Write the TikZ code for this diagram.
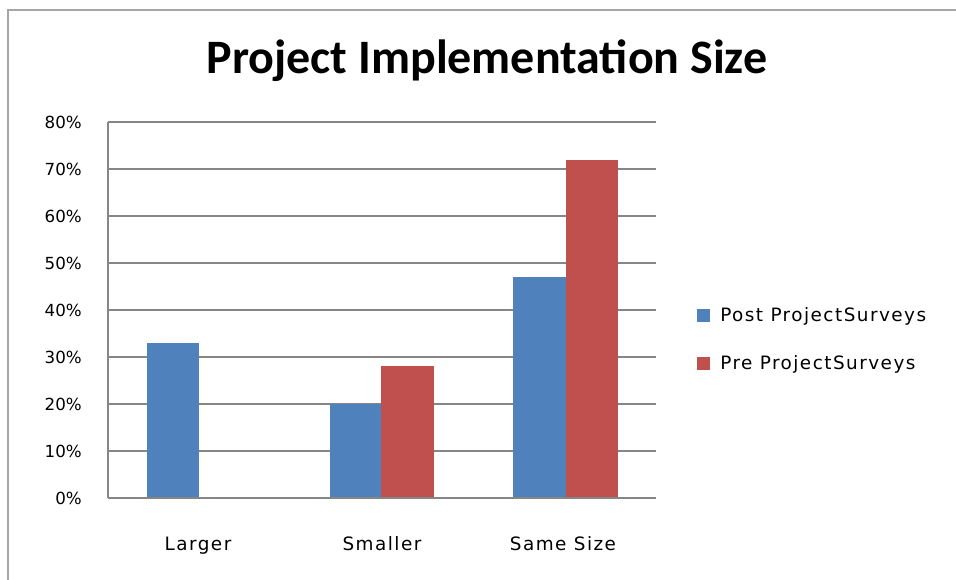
\documentclass[tikz,border=0pt]{standalone}
\usepackage{fontspec}
\setmainfont{DejaVu Sans}
\newfontfamily\titlefont{Carlito}
\newfontfamily\widefont[LetterSpace=8]{DejaVu Sans}
\definecolor{postblue}{HTML}{4F81BD}
\definecolor{prered}{HTML}{C0504D}
\definecolor{gridgray}{HTML}{868686}
\definecolor{framegray}{HTML}{A6A6A6}
\tikzset{
  axislabel/.style={font=\fontsize{12.5}{14}\selectfont, inner sep=0pt},
  catlabel/.style={font=\widefont\fontsize{13.8}{15}\selectfont, inner sep=0pt, anchor=base},
  gridline/.style={gridgray, line width=1.3pt},
  postbar/.style={fill=postblue},
  prebar/.style={fill=prered}
}
\begin{document}
\begin{tikzpicture}[x=0.75pt,y=-0.75pt]
        \useasboundingbox (0,0) rectangle (956,580);
        %frame
        \fill[white] (0,0) rectangle (956,580);
        \draw[framegray, line width=1.5pt] (7.5,580) -- (7.5,10.5) -- (956,10.5);

        %title
        \node (title) at (487,61) {\titlefont\bfseries\fontsize{36}{42}\selectfont Project Implementation Size};

        %grid and percent labels
        \foreach \p [count=\i from 0] in {0,10,20,30,40,50,60,70,80} {
          \draw[gridline] (108,498-47*\i) -- (656,498-47*\i);
          \node[axislabel, anchor=east] (tick\p) at (82,498-47*\i) {\p\%};
        }
        \draw[gridline] (108,122) -- (108,498);

        %bars
        \fill[postbar] (147,498) rectangle (199,343);
        \fill[postbar] (330,498) rectangle (381,404);
        \fill[prebar] (381,498) rectangle (434,366);
        \fill[postbar] (513,498) rectangle (566,277);
        \fill[prebar] (566,498) rectangle (618,160);
        \draw[gridline] (108,498) -- (656,498);

        %categories
        \node[catlabel] (larger) at (198,550) {Larger};
        \node[catlabel] (smaller) at (382,550) {Smaller};
        \node[catlabel] (samesize) at (563,550) {Same Size};

        %legend
        \fill[postbar] (697,309) rectangle (710,322);
        \node[catlabel, anchor=base west] (postkey) at (720,322) {Post ProjectSurveys};
        \fill[prebar] (697,357) rectangle (710,370);
        \node[catlabel, anchor=base west] (prekey) at (720,370) {Pre ProjectSurveys};
\end{tikzpicture}
\end{document}
